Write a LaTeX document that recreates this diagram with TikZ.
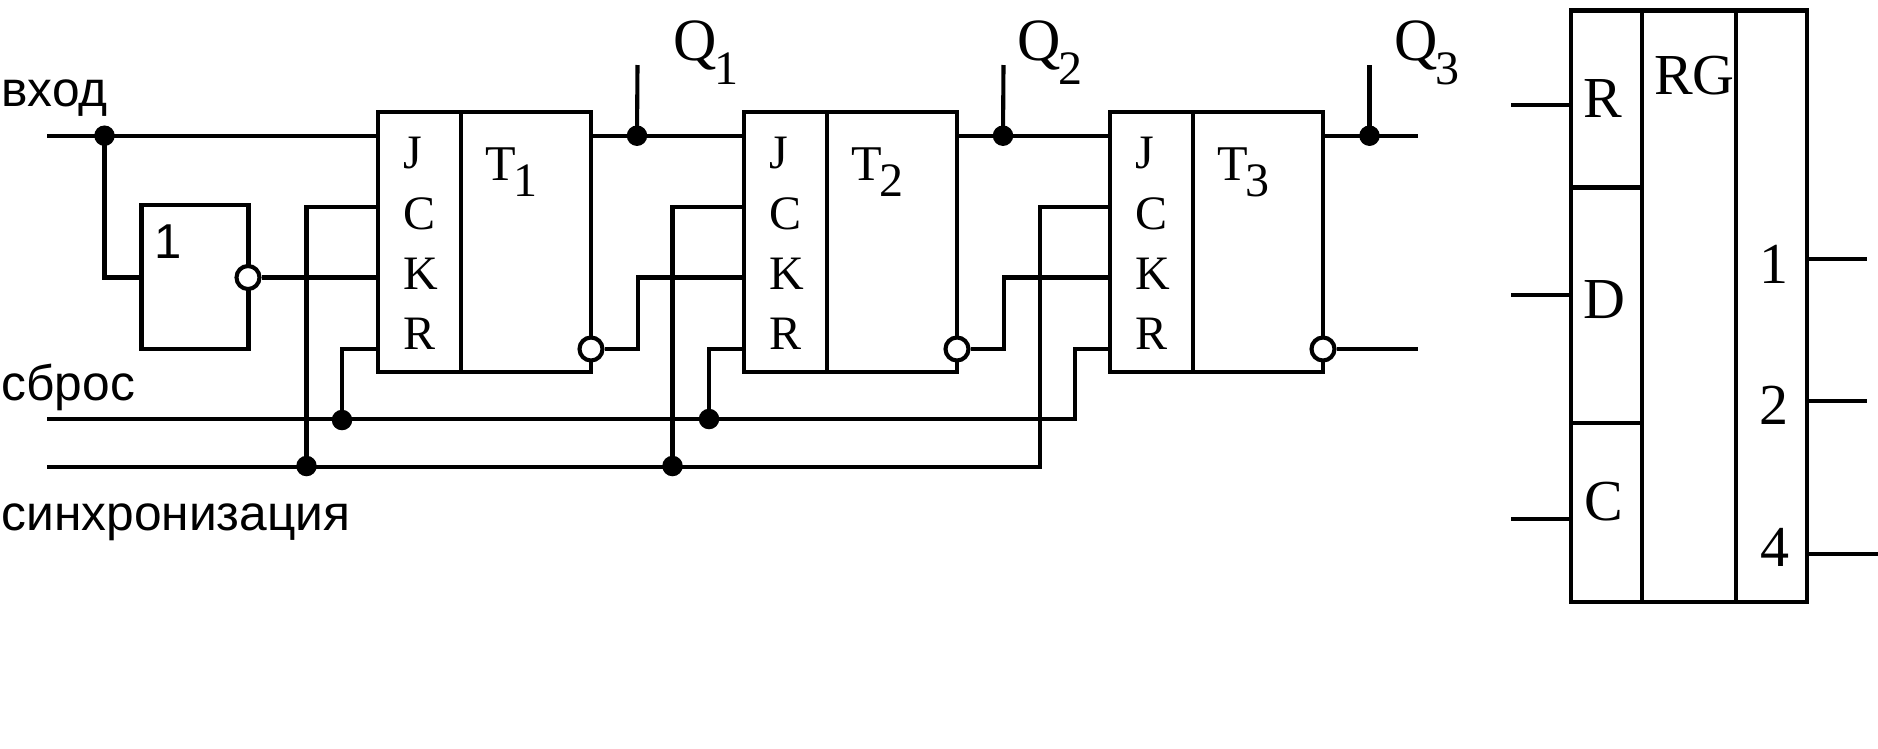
\documentclass[tikz,border=0pt]{standalone}
\usepackage{fontspec}
\setmainfont{Liberation Serif}
\newfontfamily\arialfont{Liberation Sans}
\tikzset{
  x=1pt,y=-1pt,
  wire/.style={line width=4.1pt,line cap=butt,line join=miter},
  cell/.style={draw,line width=4.3pt,anchor=north west,inner sep=0pt,outer sep=0pt,fill=white},
  joint/.style={circle,fill=black,draw=none,inner sep=0pt,minimum size=20.5pt},
  bubble/.style={circle,draw,fill=white,line width=4.1pt,inner sep=0pt,minimum size=23pt},
  pin/.style={anchor=base west,inner sep=0pt,outer sep=0pt,font=\fontsize{48}{48}\selectfont},
  big/.style={anchor=base west,inner sep=0pt,outer sep=0pt,font=\fontsize{58}{58}\selectfont},
  bigc/.style={anchor=base,inner sep=0pt,outer sep=0pt,font=\fontsize{58}{58}\selectfont},
  sans/.style={anchor=base west,inner sep=0pt,outer sep=0pt,font=\arialfont\fontsize{49.7}{50}\selectfont},
}
\begin{document}
\begin{tikzpicture}
\useasboundingbox[fill=white] (0,0) rectangle (1878,748);

% flip-flops
\foreach \n/\x in {1/378,2/744,3/1110}{
  \node[cell,minimum width=213pt,minimum height=260pt] (T\n) at (\x,112) {};
  \coordinate (Ja\n) at (\x,135.7);
  \coordinate (Ca\n) at (\x,207);
  \coordinate (Ka\n) at (\x,277.5);
  \coordinate (Ra\n) at (\x,349);
  \coordinate (Oa\n) at (\x+213,135.7);
  \coordinate (Dv\n) at (\x+83,112);
  \coordinate (Dw\n) at (\x+83,372);
  \draw[wire,line width=4.3pt] (Dv\n) -- (Dw\n);
}
% inverter
\node[cell,minimum width=107pt,minimum height=144pt] (inv) at (141.5,205) {};
\node[bubble] (invb) at (248,277.5) {};

% bubbles
\node[bubble] (nq1) at (591,349) {};
\node[bubble] (nq2) at (957,349) {};
\node[bubble] (nq3) at (1323,349) {};

% free ends and joints
\coordinate (inJ) at (47,135.7);
\coordinate (inR) at (47,419);
\coordinate (inC) at (47,467);
\coordinate (outQ) at (1418,135.7);
\coordinate (outN) at (1418,349);
\coordinate (topQ1) at (637.5,65);
\coordinate (topQ2) at (1003.5,65);
\coordinate (topQ3) at (1369.5,65);
\coordinate (invin) at (141.5,277.5);
\node[joint] (jin) at (104.5,135.7) {};
\node[joint] (jq1) at (637,135.7) {};
\node[joint] (jq2) at (1003,135.7) {};
\node[joint] (jq3) at (1369.5,135.7) {};
\node[joint] (jr1) at (342,420) {};
\node[joint] (jr2) at (709,419) {};
\node[joint] (jc1) at (306.5,466) {};
\node[joint] (jc2) at (672.5,466) {};

% connectors
\draw[wire] (inJ) -- (Ja1);
\draw[wire] (jin.center) |- (invin);
\draw[wire] (invb) -- (Ka1);
\draw[wire] (Oa1) -- (Ja2);
\draw[wire] (Oa2) -- (Ja3);
\draw[wire] (Oa3) -- (outQ);
\draw[wire] (topQ1) -- (jq1.center);
\draw[wire] (topQ2) -- (jq2.center);
\draw[wire] (topQ3) -- (jq3.center);
\draw[wire] (inR) -- (1075,419) |- (Ra3);
\draw[wire] (inC) -- (1040,467) |- (Ca3);
\draw[wire] (jr1.center) |- (Ra1);
\draw[wire] (jr2.center) |- (Ra2);
\draw[wire] (jc1.center) |- (Ca1);
\draw[wire] (jc2.center) |- (Ca2);
\draw[wire] (nq1.east) -- (638,349) |- (Ka2);
\draw[wire] (nq2.east) -- (1004,349) |- (Ka3);
\draw[wire] (nq3.east) -- (outN);

% flip-flop labels
\foreach \n/\x in {1/0,2/366,3/732}{
  \node[pin] (J\n) at (403+\x,168) {J};
  \node[pin] (C\n) at (403+\x,229) {C};
  \node[pin] (K\n) at (403+\x,289) {K};
  \node[pin] (R\n) at (403+\x,349) {R};
  \node[pin,font=\fontsize{50}{50}\selectfont] (Tt\n) at (485+\x,180) {T};
  \node[pin] (Ts\n) at (513+\x,196) {\n};
}
\node[sans,font=\arialfont\fontsize{49}{49}\selectfont] (one) at (154,258) {1};

% output labels
\node[big,font=\fontsize{60}{60}\selectfont] (Q1) at (673,60) {Q};
\node[pin] (Q1s) at (714,84) {1};
\node[big,font=\fontsize{60}{60}\selectfont] (Q2) at (1017,60) {Q};
\node[pin] (Q2s) at (1058,84) {2};
\node[big,font=\fontsize{60}{60}\selectfont] (Q3) at (1394,60) {Q};
\node[pin] (Q3s) at (1435,84) {3};

% signal names
\node[sans] (lin) at (1.5,106) {вход};
\node[sans] (lrs) at (1.5,400) {сброс};
\node[sans] (lsy) at (1.5,530) {синхронизация};

% register
\node[cell,minimum width=236pt,minimum height=591.5pt] (RGbox) at (1571,10.5) {};
\coordinate (RGa) at (1642,10.5);
\coordinate (RGb) at (1642,602);
\coordinate (RGc) at (1736,10.5);
\coordinate (RGd) at (1736,602);
\draw[wire] (RGa) -- (RGb);
\draw[wire] (RGc) -- (RGd);
\coordinate (s1) at (1571,187.5);
\coordinate (s2) at (1642,187.5);
\coordinate (s3) at (1571,423);
\coordinate (s4) at (1642,423);
\draw[wire] (s1) -- (s2);
\draw[wire] (s3) -- (s4);
\foreach \nm/\y in {iR/105.4,iD/295,iC/518.6}{
  \coordinate (\nm a) at (1511,\y);
  \coordinate (\nm b) at (1571,\y);
  \draw[wire] (\nm a) -- (\nm b);
}
\foreach \nm/\y/\e in {oA/258.6/1867,oB/400.8/1867,oC/554/1878}{
  \coordinate (\nm a) at (1807,\y);
  \coordinate (\nm b) at (\e,\y);
  \draw[wire] (\nm a) -- (\nm b);
}
\node[big] (rR) at (1583,117) {R};
\node[big] (rD) at (1583,318) {D};
\node[big] (rC) at (1584,520) {C};
\node[big] (rG) at (1654,94) {RG};
\node[bigc] (r1) at (1774,283) {1};
\node[bigc] (r2) at (1774,424.5) {2};
\node[bigc] (r4) at (1775,566) {4};
\end{tikzpicture}
\end{document}
